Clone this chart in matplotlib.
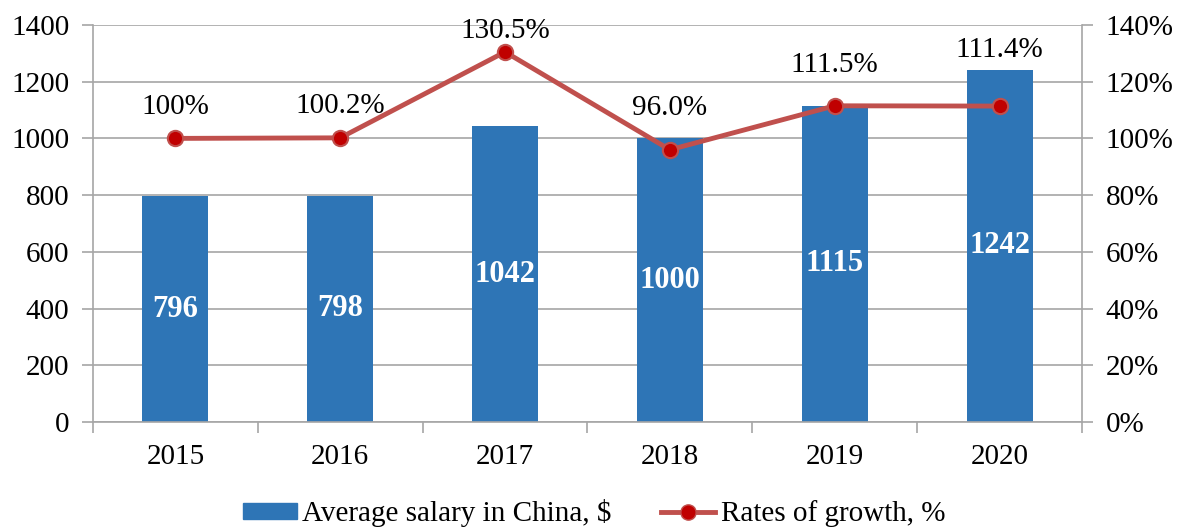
import matplotlib
matplotlib.use("Agg")
import matplotlib.pyplot as plt
from matplotlib.lines import Line2D
from matplotlib.patches import Patch

years = ["2015", "2016", "2017", "2018", "2019", "2020"]
salary = [796, 798, 1042, 1000, 1115, 1242]
growth = [100.0, 100.2, 130.5, 96.0, 111.5, 111.4]
growth_labels = ["100%", "100.2%", "130.5%", "96.0%", "111.5%", "111.4%"]
label_offsets = [31, 32, 21, 42, 41, 56]  # pixel offset above points (layout)

plt.rcParams["font.family"] = ["Liberation Serif", "DejaVu Serif"]
GRAY = "#A6A6A6"
BLUE = "#2E75B6"
RED_LINE = "#C0504D"
RED_MARK = "#C00000"
FS = 21

fig = plt.figure(figsize=(11.86, 5.28), dpi=100)
ax = fig.add_axes([0.0784, 0.2008, 0.8339, 0.7519])
x = list(range(len(years)))

ax.bar(x, salary, width=0.4, color=BLUE, zorder=2)
for xi, v in zip(x, salary):
    ax.text(xi, v / 2, str(v), ha="center", va="center", color="white",
            fontsize=22, fontweight="bold", zorder=3)

ax.set_xlim(-0.5, len(years) - 0.5)
ax.set_ylim(0, 1400)
ax.set_yticks(range(0, 1401, 200))
ax.tick_params(axis="y", labelsize=FS, length=8, color=GRAY, width=1.2, pad=9)
ax.set_xticks(x)
ax.set_xticklabels(years)
ax.set_xticks([i - 0.5 for i in range(len(years) + 1)], minor=True)
ax.tick_params(axis="x", which="major", length=0, labelsize=FS, pad=16)
ax.tick_params(axis="x", which="minor", length=8, color=GRAY, width=1.2)
ax.grid(axis="y", color=GRAY, linewidth=1.2, zorder=0)
ax.set_axisbelow(True)
for s in ["top", "right"]:
    ax.spines[s].set_visible(False)
for s in ["left", "bottom"]:
    ax.spines[s].set_color(GRAY)
    ax.spines[s].set_linewidth(1.2)

ax2 = ax.twinx()
ax2.set_ylim(0, 140)
ax2.set_yticks(range(0, 141, 20))
ax2.set_yticklabels([f"{v}%" for v in range(0, 141, 20)])
ax2.tick_params(axis="y", labelsize=FS, length=8, color=GRAY, width=1.2, pad=9)
for s in ["top", "left", "bottom"]:
    ax2.spines[s].set_visible(False)
ax2.spines["right"].set_color(GRAY)
ax2.spines["right"].set_linewidth(1.2)

ax2.plot(x, growth, color=RED_LINE, linewidth=3.5, marker="o", markersize=11,
         markerfacecolor=RED_MARK, markeredgecolor=RED_LINE, markeredgewidth=1.5,
         zorder=4)
for xi, g, lab, off in zip(x, growth, growth_labels, label_offsets):
    ax2.annotate(lab, (xi, g), xytext=(0, off), textcoords="offset pixels",
                 ha="center", va="center", fontsize=FS, color="black")

handles = [Patch(facecolor=BLUE, edgecolor=BLUE),
           Line2D([0], [0], color=RED_LINE, linewidth=3.5, marker="o", markersize=11,
                  markerfacecolor=RED_MARK, markeredgecolor=RED_LINE)]
fig.legend(handles, ["Average salary in China, $", "Rates of growth, %"],
           loc="center", bbox_to_anchor=(0.501, 0.028), ncol=2, frameon=False,
           fontsize=FS, handlelength=1.85, handleheight=0.5, handletextpad=0.2,
           columnspacing=1.7, borderpad=0, borderaxespad=0)

fig.savefig("out.png", dpi=100)
